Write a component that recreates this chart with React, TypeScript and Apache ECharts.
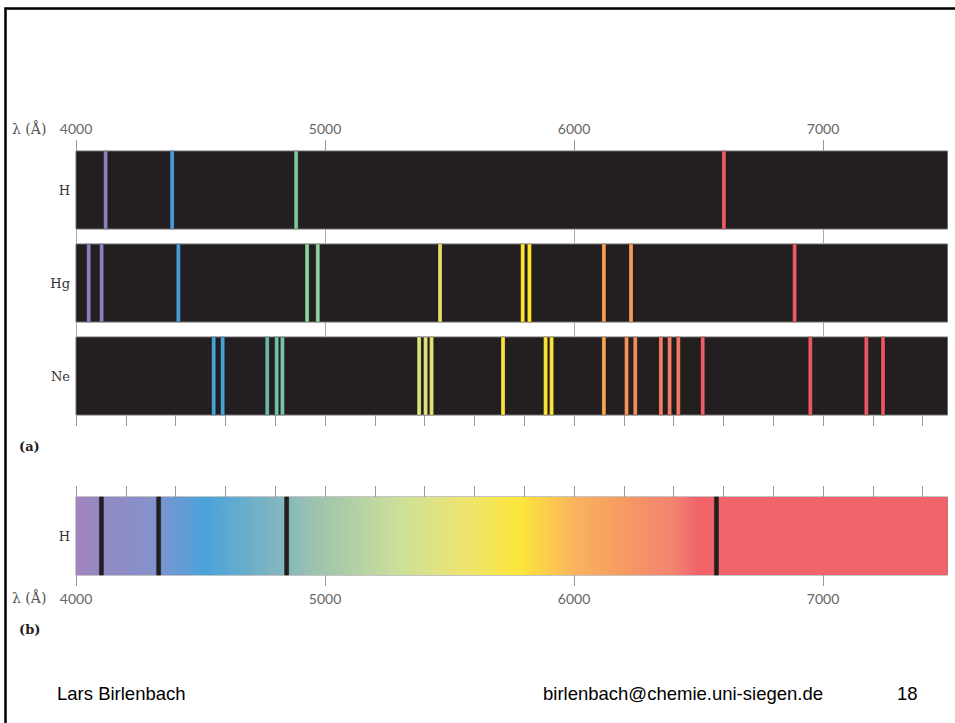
import React, { useEffect, useRef } from 'react';
import * as echarts from 'echarts';

// ---------- data ----------
const WL_MIN = 4000;
const WL_MAX = 7500;
const majorTicks = [4000, 5000, 6000, 7000];
const minorTicks = [4000, 4200, 4400, 4600, 4800, 5000, 5200, 5400, 5600, 5800, 6000, 6200, 6400, 6600, 6800, 7000, 7200, 7400];
const rowNames = ['H', 'Hg', 'Ne'];
const absRowName = 'H';

const hLines = [4119, 4386, 4884, 6602];
const hColors = ['#8a80c2', '#4b9bd8', '#80c69c', '#ee5a64'];

const hgLines = [4051, 4103, 4411, 4928, 4971, 5462, 5794, 5821, 6120, 6229, 6886];
const hgColors = ['#8a80c2', '#8a80c2', '#4b9bd8', '#8fd29c', '#8fd29c', '#e6dc68', '#fde62e', '#fde62e', '#f7a052', '#f79a54', '#ec5a62'];

const neLines = [4553, 4589, 4768, 4806, 4829, 5378, 5404, 5428, 5715, 5886, 5910, 6120, 6211, 6246, 6349, 6384, 6419, 6517, 6949, 7174, 7241];
const neColors = ['#4ba2d8', '#4ba2d8', '#6cb8aa', '#74c0ac', '#78c4ac', '#dde27a', '#e2e27a', '#e6e276', '#fbe23a', '#fde23a', '#fde23a', '#f8a650', '#f49456', '#f28e5c', '#f47e63', '#f47e63', '#f47a62', '#ee6065', '#ec5862', '#ec5862', '#ec5560'];

const absorptionLines = [4102, 4332, 4846, 6572];
const spectrumStops = [4000, 4110, 4300, 4520, 4800, 5000, 5300, 5550, 5780, 6000, 6200, 6400, 6500, 7500];
const spectrumColors = ['#a285c0', '#9489c4', '#8592cc', '#4aa3dc', '#7fb5c0', '#a2c6ac', '#cde09a', '#ece472', '#fde73a', '#f9b45e', '#f69a63', '#f48270', '#f0646a', '#f0646a'];

// ---------- helpers ----------
const GRID_LEFT = 76;
const GRID_WIDTH = 871.5;
const BAR_H = 78;
const gridTops = [151, 244, 337, 497];
const tickColor = '#999999';
const labelColor = '#666666';
const serif = '"DejaVu Serif", "Liberation Serif", serif';
const sans = 'Lato, "Open Sans", sans-serif';

function lineRenderer(width: number, strokeColor: string) {
  return (params: any, api: any) => {
    const c = api.coord([api.value(0), api.value(1)]);
    const h = api.size([0, 1])[1];
    return {
      type: 'rect',
      shape: { x: c[0] - width / 2, y: c[1] - h / 2, width, height: h },
      style: { fill: api.visual('color'), stroke: strokeColor, lineWidth: 0.6 },
    };
  };
}

function lineData(values: number[], colors: string[] | null, fixedColor?: string) {
  return values.map((v, i) => ({
    value: [v, 0],
    itemStyle: { color: colors ? colors[i] : fixedColor },
  }));
}

function xAxisBase(gridIndex: number, position: 'top' | 'bottom') {
  return {
    type: 'value',
    gridIndex,
    position,
    min: WL_MIN,
    max: WL_MAX,
    axisLine: { show: false },
    splitLine: { show: false },
    axisTick: { show: false },
    axisLabel: { show: false },
  };
}

export default function App() {
  const ref = useRef<HTMLDivElement>(null);

  useEffect(() => {
    if (!ref.current) return;
    const chart = echarts.init(ref.current, null, { renderer: 'svg' });

    const grids = gridTops.map((top, i) => ({
      left: GRID_LEFT,
      width: GRID_WIDTH,
      top,
      height: BAR_H,
      show: true,
      backgroundColor: i < 3 ? '#231f20' : '#ffffff',
      borderColor: i < 3 ? '#6d6d6d' : '#8a8a8a',
      borderWidth: 1,
      containLabel: false,
      outerBoundsMode: 'none',
    }));

    const xAxes: any[] = [
      // 0: H top with labels
      {
        ...xAxisBase(0, 'top'),
        axisTick: { show: true, length: 11, customValues: majorTicks, lineStyle: { color: tickColor, width: 1 } },
        axisLabel: {
          show: true, customValues: majorTicks, margin: 16, color: labelColor,
          fontSize: 14, fontFamily: sans, formatter: (v: number) => String(v),
        },
      },
      // 1: H bottom gap ticks
      {
        ...xAxisBase(0, 'bottom'),
        axisTick: { show: true, length: 15, customValues: majorTicks, lineStyle: { color: '#a8a8a8', width: 1 } },
      },
      // 2: Hg bottom gap ticks
      {
        ...xAxisBase(1, 'bottom'),
        axisTick: { show: true, length: 15, customValues: majorTicks, lineStyle: { color: '#a8a8a8', width: 1 } },
      },
      // 3: Ne bottom minor ticks
      {
        ...xAxisBase(2, 'bottom'),
        axisTick: { show: true, length: 11, customValues: minorTicks, lineStyle: { color: tickColor, width: 1 } },
      },
      // 4: absorption top minor ticks
      {
        ...xAxisBase(3, 'top'),
        axisTick: { show: true, length: 11, customValues: minorTicks, lineStyle: { color: tickColor, width: 1 } },
      },
      // 5: absorption bottom major ticks + labels
      {
        ...xAxisBase(3, 'bottom'),
        axisTick: { show: true, length: 11, customValues: majorTicks, lineStyle: { color: tickColor, width: 1 } },
        axisLabel: {
          show: true, customValues: majorTicks, margin: 16, color: labelColor,
          fontSize: 14, fontFamily: sans, formatter: (v: number) => String(v),
        },
      },
    ];

    const yNames = [...rowNames, absRowName];
    const yAxes = yNames.map((name, i) => ({
      type: 'category',
      gridIndex: i,
      data: [name],
      axisLine: { show: false },
      axisTick: { show: false },
      splitLine: { show: false },
      axisLabel: { show: true, margin: 6, color: '#333333', fontSize: 13, fontFamily: serif },
    }));

    const series: any[] = [
      {
        type: 'custom', name: 'H', xAxisIndex: 0, yAxisIndex: 0, z: 3,
        renderItem: lineRenderer(4, 'rgba(0,0,0,0.35)'),
        data: lineData(hLines, hColors),
      },
      {
        type: 'custom', name: 'Hg', xAxisIndex: 2, yAxisIndex: 1, z: 3,
        renderItem: lineRenderer(4, 'rgba(0,0,0,0.35)'),
        data: lineData(hgLines, hgColors),
      },
      {
        type: 'custom', name: 'Ne', xAxisIndex: 3, yAxisIndex: 2, z: 3,
        renderItem: lineRenderer(4, 'rgba(0,0,0,0.35)'),
        data: lineData(neLines, neColors),
      },
      {
        type: 'custom', name: 'spectrum', xAxisIndex: 5, yAxisIndex: 3, z: 2,
        renderItem: (params: any, api: any) => {
          const c0 = api.coord([WL_MIN, 0]);
          const c1 = api.coord([WL_MAX, 0]);
          const h = api.size([0, 1])[1];
          const span = c1[0] - c0[0];
          const stops = spectrumStops.map((wl, i) => ({
            offset: Math.min(1, Math.max(0, (api.coord([wl, 0])[0] - c0[0]) / span)),
            color: spectrumColors[i],
          }));
          return {
            type: 'rect',
            shape: { x: c0[0], y: c0[1] - h / 2, width: span, height: h },
            style: { fill: new echarts.graphic.LinearGradient(0, 0, 1, 0, stops) },
          };
        },
        data: [[WL_MIN, 0]],
      },
      {
        type: 'custom', name: 'absorption', xAxisIndex: 5, yAxisIndex: 3, z: 4,
        renderItem: lineRenderer(4, '#231f20'),
        data: lineData(absorptionLines, null, '#231f20'),
      },
    ];

    const lambdaStyle = { font: `14px ${serif}`, fill: '#555555', textVerticalAlign: 'middle', textAlign: 'left' };
    const footerFont = `18.5px "Liberation Sans", Arial, sans-serif`;

    chart.setOption({
      animation: false,
      backgroundColor: '#ffffff',
      grid: grids,
      xAxis: xAxes,
      yAxis: yAxes,
      series,
      graphic: [
        { type: 'rect', shape: { x: 5.5, y: 8.5, width: 990, height: 760 }, style: { fill: 'none', stroke: '#000000', lineWidth: 2.5 }, silent: true },
        { type: 'text', x: 12, y: 129, style: { ...lambdaStyle, text: 'λ (Å)' } },
        { type: 'text', x: 12, y: 598, style: { ...lambdaStyle, text: 'λ (Å)' } },
        { type: 'text', x: 19, y: 446, style: { text: '(a)', font: `bold 13px ${serif}`, fill: '#222222', textVerticalAlign: 'middle' } },
        { type: 'text', x: 19, y: 629, style: { text: '(b)', font: `bold 13px ${serif}`, fill: '#222222', textVerticalAlign: 'middle' } },
        { type: 'text', x: 57, y: 693, style: { text: 'Lars Birlenbach', font: footerFont, fill: '#000000', textVerticalAlign: 'middle' } },
        { type: 'text', x: 543, y: 693, style: { text: 'birlenbach@chemie.uni-siegen.de', font: footerFont, fill: '#000000', textVerticalAlign: 'middle' } },
        { type: 'text', x: 897, y: 693, style: { text: '18', font: footerFont, fill: '#000000', textVerticalAlign: 'middle' } },
      ],
    });

    return () => chart.dispose();
  }, []);

  return (
    <div
      ref={ref}
      style={{ position: 'fixed', left: 0, top: 0, width: 955, height: 723, background: '#ffffff' }}
    />
  );
}
